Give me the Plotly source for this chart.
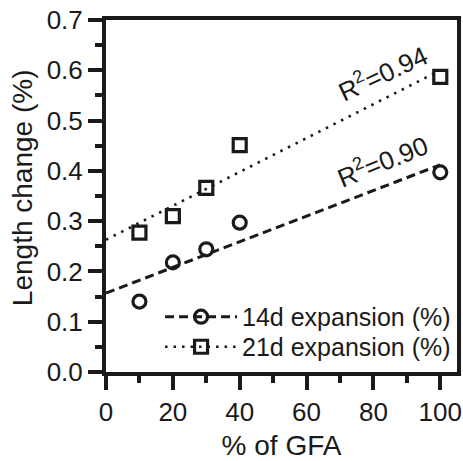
import plotly.graph_objects as go

# Data
gfa_pct = [10, 20, 30, 40, 100]
exp14 = [0.140, 0.218, 0.244, 0.297, 0.397]
exp21 = [0.277, 0.310, 0.366, 0.451, 0.587]

# Linear fit lines (end points)
fit_x = [0, 100]
fit14_y = [0.157, 0.412]
fit21_y = [0.263, 0.600]

r2_14 = "R<sup>2</sup>=0.90"
r2_21 = "R<sup>2</sup>=0.94"
y_title = "Length change (%)"
x_title = "% of GFA"

FONT = "Liberation Sans, Arial, sans-serif"
INK = "#1a1a1a"

DASH14 = "9px,5px"
DOT21 = "2.5px,6px"

fig = go.Figure()

# fit lines
fig.add_trace(go.Scatter(x=fit_x, y=fit14_y, mode="lines", showlegend=False,
                         line=dict(color=INK, width=3, dash=DASH14)))
fig.add_trace(go.Scatter(x=fit_x, y=fit21_y, mode="lines", showlegend=False,
                         line=dict(color=INK, width=2.6, dash=DOT21)))
# data markers
fig.add_trace(go.Scatter(x=gfa_pct, y=exp14, mode="markers", showlegend=False,
                         marker=dict(symbol="circle-open", size=13, color=INK,
                                     line=dict(width=3.2, color=INK))))
fig.add_trace(go.Scatter(x=gfa_pct, y=exp21, mode="markers", showlegend=False,
                         marker=dict(symbol="square-open", size=13, color=INK,
                                     line=dict(width=3.2, color=INK))))
# legend entries (combined symbol), each in its own legend box
fig.add_trace(go.Scatter(x=[None], y=[None], mode="lines+markers", name="14d expansion (%)",
                         legend="legend",
                         line=dict(color=INK, width=3, dash=DASH14),
                         marker=dict(symbol="circle-open", size=13, color=INK,
                                     line=dict(width=3.2, color=INK))))
fig.add_trace(go.Scatter(x=[None], y=[None], mode="lines+markers", name="21d expansion (%)",
                         legend="legend2",
                         line=dict(color=INK, width=2.6, dash=DOT21),
                         marker=dict(symbol="square-open", size=13, color=INK,
                                     line=dict(width=3.2, color=INK))))

fig.add_annotation(x=82.8, y=0.596, text=r2_21, showarrow=False, textangle=-25,
                   font=dict(family=FONT, size=26, color=INK))
fig.add_annotation(x=82.8, y=0.42, text=r2_14, showarrow=False, textangle=-22,
                   font=dict(family=FONT, size=26, color=INK))

# y-axis title placed as a rotated annotation
fig.add_annotation(xref="paper", yref="paper", x=-(106 - 22) / 351, y=(371.7 - 188) / 351.7,
                   xanchor="center", yanchor="middle",
                   text=y_title, showarrow=False, textangle=-90,
                   font=dict(family=FONT, size=28, color=INK))

axis_common = dict(
    showline=True, linewidth=4, linecolor=INK, mirror=True,
    ticks="outside", ticklen=14, tickwidth=3.5, tickcolor=INK,
    showgrid=False, zeroline=False, automargin=False,
    tickfont=dict(family=FONT, size=26, color=INK),
)

fig.update_xaxes(range=[0, 105], tick0=0, dtick=20,
                 minor=dict(ticks="outside", ticklen=7, tickwidth=3.5, tickcolor=INK, dtick=10, tick0=0),
                 title=dict(text=x_title, font=dict(family=FONT, size=28, color=INK), standoff=18),
                 **axis_common)
fig.update_yaxes(range=[0, 0.7], tick0=0, dtick=0.1, tickformat=".1f",
                 minor=dict(ticks="outside", ticklen=7, tickwidth=3.5, tickcolor=INK, dtick=0.05, tick0=0),
                 **axis_common)

legend_common = dict(xanchor="left", yanchor="middle",
                     bgcolor="rgba(0,0,0,0)", borderwidth=0,
                     font=dict(family=FONT, size=25, color=INK), itemwidth=72)

fig.update_layout(
    width=463, height=461,
    margin=dict(l=106, r=6, t=20, b=89),
    paper_bgcolor="white", plot_bgcolor="white",
    font=dict(family=FONT, color=INK),
    legend=dict(x=0.154, y=(371.7 - 316.7) / 351.7, **legend_common),
    legend2=dict(x=0.154, y=(371.7 - 346.7) / 351.7, **legend_common),
)

fig.write_html("out.html")
